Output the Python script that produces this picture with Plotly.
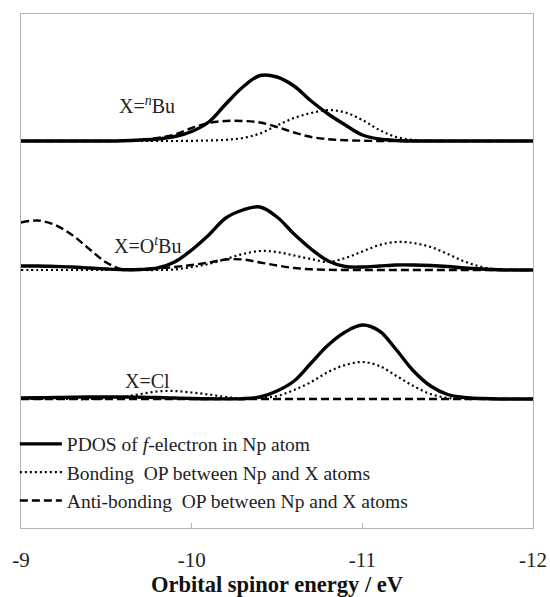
import plotly.graph_objects as go

# Orbital spinor energy grid (eV)
energy = [-9.0, -9.1, -9.2, -9.3, -9.4, -9.5, -9.6, -9.7, -9.8, -9.9,
          -10.0, -10.1, -10.2, -10.3, -10.4, -10.5, -10.6, -10.7, -10.8, -10.9,
          -11.0, -11.1, -11.2, -11.3, -11.4, -11.5, -11.6, -11.7, -11.8, -11.9, -12.0]

# X = nBu
nbu_pdos = [0, 0, 0, 0, 0, 0, 0.03, 0.1, 0.2, 0.45,
            0.95, 1.9, 3.7, 5.4, 6.55, 6.4, 5.5, 4.0, 2.7, 1.6,
            0.6, 0.2, 0.05, 0, 0, 0, 0, 0, 0, 0, 0]
nbu_bond = [0, 0, 0, 0, 0, 0, 0, 0, 0, 0,
            0.02, 0.05, 0.12, 0.3, 0.75, 1.55, 2.3, 2.8, 3.1, 2.85,
            2.1, 1.1, 0.4, 0.1, 0.02, 0, 0, 0, 0, 0, 0]
nbu_anti = [0, 0, 0, 0, 0, 0, 0.03, 0.1, 0.3, 0.65,
            1.3, 1.8, 2.0, 2.0, 1.85, 1.4, 0.85, 0.4, 0.18, 0.07,
            0.03, 0, 0, 0, 0, 0, 0, 0, 0, 0, 0]

# X = OtBu
otbu_pdos = [0.4, 0.4, 0.35, 0.3, 0.2, 0.1, 0.03, 0.05, 0.2, 0.8,
             2.0, 3.5, 5.2, 6.0, 6.3, 5.3, 3.6, 2.1, 0.9, 0.35,
             0.3, 0.4, 0.5, 0.5, 0.45, 0.35, 0.2, 0.1, 0.03, 0, 0]
otbu_bond = [0, 0, 0, 0, 0, 0, 0, 0, 0, 0.05,
             0.3, 0.6, 1.1, 1.6, 1.9, 1.8, 1.45, 1.1, 0.8, 1.2,
             1.85, 2.5, 2.8, 2.7, 2.3, 1.6, 0.85, 0.3, 0.05, 0, 0]
otbu_anti = [4.75, 4.95, 4.5, 3.5, 2.1, 0.75, 0.05, 0.05, 0.15, 0.3,
             0.5, 0.75, 1.05, 1.05, 0.75, 0.45, 0.2, 0.07, 0.02, 0,
             0, 0, 0, 0, 0, 0, 0, 0, 0, 0, 0]

# X = Cl
cl_pdos = [0.1, 0.12, 0.15, 0.18, 0.2, 0.2, 0.2, 0.18, 0.15, 0.1,
           0.05, 0.02, 0.01, 0.03, 0.2, 0.8, 1.8, 3.6, 5.4, 6.7,
           7.4, 6.8, 4.9, 2.8, 1.3, 0.45, 0.15, 0.05, 0, 0, 0]
cl_bond = [0, 0, 0, 0, 0, 0.05, 0.2, 0.5, 0.75, 0.8,
           0.65, 0.45, 0.2, 0.05, 0.12, 0.3, 0.9, 1.7, 2.7, 3.4,
           3.7, 3.3, 2.3, 1.3, 0.5, 0.1, 0, 0, 0, 0, 0]
cl_anti = [0] * 31

panel_labels = ["X=<sup><i>n</i></sup>Bu", "X=O<sup><i>t</i></sup>Bu", "X=Cl"]
panel_offsets = [38.7, 25.8, 12.9]
panels = [(nbu_pdos, nbu_bond, nbu_anti),
          (otbu_pdos, otbu_bond, otbu_anti),
          (cl_pdos, cl_bond, cl_anti)]

series_names = ["PDOS of <i>f</i>-electron in Np atom",
                "Bonding\u00a0 OP between Np and X atoms",
                "Anti-bonding\u00a0 OP between Np and X atoms"]
series_styles = [dict(width=3.4, dash="solid"),
                 dict(width=2.2, dash="2px,3px"),
                 dict(width=2.4, dash="8px,4px")]

tick_vals = [-9, -10, -11, -12]
tick_text = ["-9", "-10", "-11", "-12"]

FONT = "Liberation Serif, Times New Roman, serif"

fig = go.Figure()
for p, (vals, off) in enumerate(zip(panels, panel_offsets)):
    for s in range(3):
        fig.add_trace(go.Scatter(
            x=energy,
            y=[off + v for v in vals[s]],
            mode="lines",
            line=dict(color="black", shape="spline", smoothing=1.0, **series_styles[s]),
            name=series_names[s],
            legendgroup=f"s{s}",
            showlegend=(p == 0),
            hoverinfo="skip",
        ))

label_pos = [(-9.74, 3.6), (-9.74, 2.5), (-9.74, 1.8)]
for lab, off, (lx, dy) in zip(panel_labels, panel_offsets, label_pos):
    fig.add_annotation(x=lx, y=off + dy, text=lab, showarrow=False,
                       font=dict(family=FONT, size=20, color="#222"),
                       xanchor="center", yanchor="middle")

fig.update_layout(
    width=550, height=597,
    margin=dict(l=21, r=17, t=14, b=69),
    paper_bgcolor="white", plot_bgcolor="white",
    font=dict(family=FONT, color="#222"),
    showlegend=True,
    legend=dict(x=-0.012, y=0.201, xanchor="left", yanchor="top",
                bgcolor="rgba(0,0,0,0)", borderwidth=0,
                itemwidth=42,
                font=dict(family=FONT, size=19.5, color="#222"),
                traceorder="grouped", tracegroupgap=0),
)
fig.update_xaxes(
    range=[-9, -12], tickvals=tick_vals, ticktext=tick_text,
    ticks="inside", ticklen=5, tickcolor="#b4b4b4", tickwidth=1,
    ticklabelstandoff=13, automargin=False,
    tickfont=dict(family=FONT, size=21, color="#222"),
    showline=True, linecolor="#b4b4b4", linewidth=1, mirror=True,
    showgrid=False, zeroline=False,
    title=dict(text="<b>Orbital spinor energy / eV</b>", standoff=10,
               font=dict(family=FONT, size=22.5, color="#111")),
)
fig.update_yaxes(
    range=[0, 51.4], showticklabels=False, ticks="", automargin=False,
    showline=True, linecolor="#b4b4b4", linewidth=1, mirror=True,
    showgrid=False, zeroline=False,
)

fig.write_html("out.html")
